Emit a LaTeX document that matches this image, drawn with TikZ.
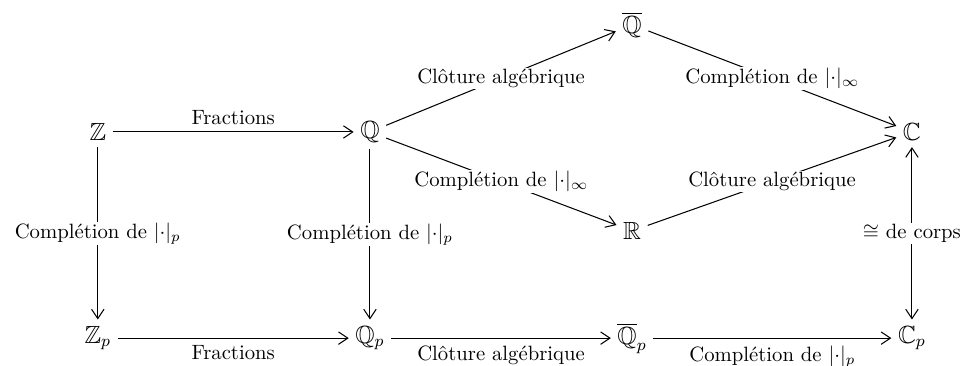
\documentclass[tikz,border=0pt]{standalone}
\usepackage{amssymb}
\usetikzlibrary{arrows.meta, positioning}
\tikzset{
  obj/.style={font=\large, inner sep=3pt},
  arrow/.style={-{Straight Barb[length=4.5pt, width=6pt]}, line width=0.5pt},
  dbl/.style={{Straight Barb[length=4.5pt, width=6pt]}-{Straight Barb[length=4.5pt, width=6pt]}, line width=0.5pt},
  lab/.style={fill=white, inner sep=0.5pt},
}
\begin{document}
\begin{tikzpicture}
  \useasboundingbox (0,0) rectangle (16.33,6.20);
  % top row
  \node[obj] (Z)    at (1.66,3.96)  {$\mathbb{Z}$};
  \node[obj] (Q)    at (6.28,3.96)  {$\mathbb{Q}$};
  \node[obj] (Qbar) at (10.73,5.78) {$\overline{\mathbb{Q}}$};
  \node[obj] (R)    at (10.73,2.28) {$\mathbb{R}$};
  \node[obj] (C)    at (15.48,3.96) {$\mathbb{C}$};
  % bottom row
  \node[obj] (Zp)    at (1.66,0.46)  {$\mathbb{Z}_p$};
  \node[obj] (Qp)    at (6.28,0.46)  {$\mathbb{Q}_p$};
  \node[obj] (Qbarp) at (10.73,0.46) {$\overline{\mathbb{Q}}_p$};
  \node[obj] (Cp)    at (15.48,0.46) {$\mathbb{C}_p$};

  \draw[arrow] (Z) -- node[above] {Fractions} (Q);
  \draw[arrow] (Q) -- node[lab] {Clôture algébrique} (Qbar);
  \draw[arrow] (Q) -- node[lab] {Complétion de $|{\cdot}|_\infty$} (R);
  \draw[arrow] (Qbar) -- node[lab] {Complétion de $|{\cdot}|_\infty$} (C);
  \draw[arrow] (R) -- node[lab] {Clôture algébrique} (C);
  \draw[arrow] (Z) -- node[lab] {Complétion de $|{\cdot}|_p$} (Zp);
  \draw[arrow] (Q) -- node[lab] {Complétion de $|{\cdot}|_p$} (Qp);
  \draw[dbl] (Cp) -- node[lab] {$\cong$ de corps} (C);
  \draw[arrow] (Zp) -- node[below] {Fractions} (Qp);
  \draw[arrow] (Qp) -- node[below] {Clôture algébrique} (Qbarp);
  \draw[arrow] (Qbarp) -- node[below] {Complétion de $|{\cdot}|_p$} (Cp);
\end{tikzpicture}
\end{document}
